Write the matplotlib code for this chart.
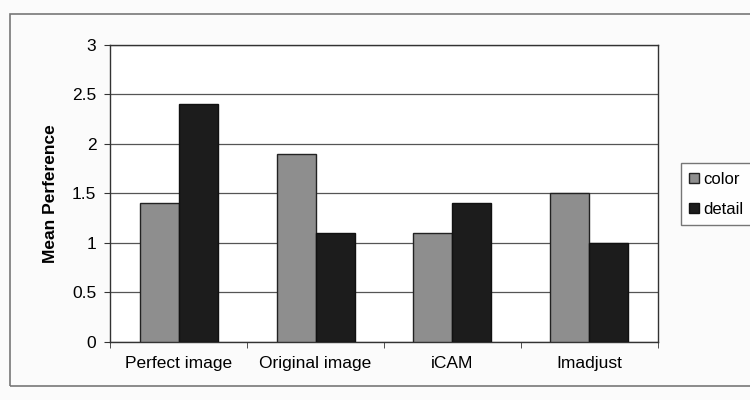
import numpy as np
import matplotlib
matplotlib.use("Agg")
import matplotlib.pyplot as plt
from matplotlib.patches import Rectangle

# Data
categories = ['Perfect image', 'Original image', 'iCAM', 'Imadjust']
color_vals = [1.4, 1.9, 1.1, 1.5]
detail_vals = [2.4, 1.1, 1.4, 1.0]
y_ticks = [0, 0.5, 1, 1.5, 2, 2.5, 3]
y_tick_labels = ['0', '0.5', '1', '1.5', '2', '2.5', '3']

plt.rcParams['font.family'] = ['Liberation Sans', 'DejaVu Sans']
fs = 12.5

fig = plt.figure(figsize=(7.5, 4), dpi=100)
fig.patch.set_facecolor('#fbfbfb')

# outer chart-area frame
fig.patches.append(Rectangle((0.013, 0.035), 1.0, 0.93, transform=fig.transFigure,
                             fill=False, edgecolor='#777777', linewidth=1.2))

ax = fig.add_axes([0.147, 0.145, 0.73, 0.743])
ax.set_facecolor('white')

x = np.arange(len(categories))
w = 0.285
ax.bar(x - w / 2, color_vals, w, color='#8e8e8e', edgecolor='#222222',
       linewidth=1.0, label='color', zorder=3)
ax.bar(x + w / 2, detail_vals, w, color='#1c1c1c', edgecolor='#111111',
       linewidth=1.0, label='detail', zorder=3)

ax.set_xlim(-0.5, len(categories) - 0.5)
ax.set_ylim(0, 3)
ax.set_yticks(y_ticks)
ax.set_yticklabels(y_tick_labels, fontsize=fs)
ax.set_xticks(x)
ax.set_xticklabels(categories, fontsize=fs)
ax.set_xticks(np.arange(len(categories) + 1) - 0.5, minor=True)
ax.tick_params(axis='x', which='major', length=0, pad=10)
ax.tick_params(axis='x', which='minor', length=4, color='#333333')
ax.tick_params(axis='y', length=4, color='#333333', pad=6)

ax.yaxis.grid(True, color='#555555', linewidth=0.9, zorder=0)
for side in ['top', 'right', 'left', 'bottom']:
    ax.spines[side].set_color('#333333')
    ax.spines[side].set_linewidth(1.0)

ax.set_ylabel('Mean Perference', fontsize=fs, fontweight='bold', labelpad=10)

leg = fig.legend(loc='center left', bbox_to_anchor=(0.908, 0.515), fontsize=12,
                 frameon=True, fancybox=False, edgecolor='#555555',
                 handlelength=0.55, handleheight=0.55, handletextpad=0.3,
                 borderpad=0.5, borderaxespad=0.0, labelspacing=0.9)
leg.get_frame().set_linewidth(1.0)

fig.savefig('out.png', dpi=100, facecolor=fig.get_facecolor())
